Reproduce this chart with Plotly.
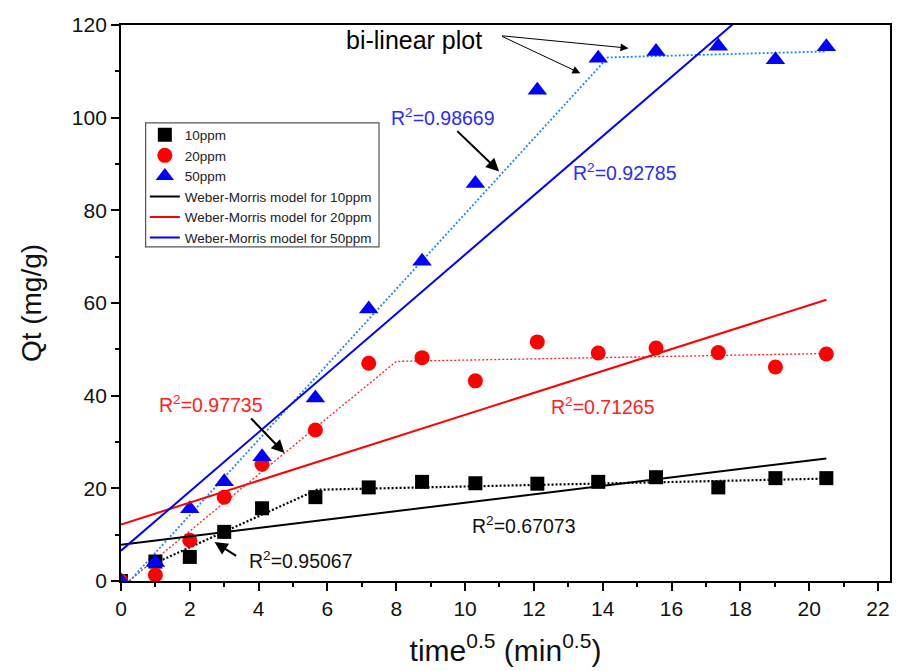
import plotly.graph_objects as go

# square root of contact time (min^0.5)
t_sqrt = [0, 1.0, 2.0, 3.0, 4.1, 5.65, 7.2, 8.75, 10.3, 12.1, 13.87, 15.55, 17.36, 19.02, 20.5]

# adsorbed amount Qt (mg/g) for each initial concentration
q_10ppm = [0, 4.2, 5.2, 10.6, 15.7, 18.1, 20.2, 21.4, 21.1, 21.0, 21.4, 22.4, 20.2, 22.2, 22.2]
q_20ppm = [0, 1.3, 8.8, 18.1, 25.2, 32.6, 47.0, 48.2, 43.2, 51.6, 49.2, 50.3, 49.3, 46.2, 49.0]
q_50ppm = [0, 4.0, 15.6, 21.4, 26.8, 39.5, 58.7, 69.0, 85.8, 105.9, 112.8, 114.3, 115.4, 112.5, 115.3]

# Weber-Morris single-line fits: Qt = kid * t^0.5 + C
wm_names = ["Weber-Morris model for 10ppm", "Weber-Morris model for 20ppm", "Weber-Morris model for 50ppm"]
wm_slope = [0.91, 2.366, 6.39]
wm_intercept = [7.8, 12.2, 6.55]
wm_x_range = [0, 20.5]

# bi-linear (two-stage) fits: knot positions
bl_10_x = [1.0, 5.7, 20.5]
bl_10_y = [3.9, 19.7, 22.1]
bl_20_x = [0.23, 8.0, 20.5]
bl_20_y = [0, 47.4, 49.1]
bl_50_x = [0.25, 14.15, 20.5]
bl_50_y = [0, 113.0, 114.3]

# R^2 labels: (text, x, y, colour)
r2_labels = [
    ("R<sup>2</sup>=0.98669", 9.35, 100.2, "#2b2bff"),
    ("R<sup>2</sup>=0.92785", 14.65, 88.3, "#2b2bff"),
    ("R<sup>2</sup>=0.97735", 2.62, 38.2, "#ff2020"),
    ("R<sup>2</sup>=0.71265", 14.0, 37.8, "#ff2020"),
    ("R<sup>2</sup>=0.67073", 11.72, 12.1, "#111111"),
    ("R<sup>2</sup>=0.95067", 5.22, 4.5, "#111111"),
]
# pointer arrows: (tail x, tail y, head x, head y)
r2_arrows = [
    (9.73, 97.4, 10.99, 88.4),
    (3.74, 35.4, 4.75, 27.6),
    (3.39, 5.2, 2.72, 8.4),
]
bilinear_label = ("bi-linear plot", 6.49, 116.8)
bilinear_arrows = [
    (11.03, 117.7, 14.75, 115.0),
    (11.03, 117.7, 13.35, 109.6),
]

FONT = "Liberation Sans, Arial, sans-serif"
fig = go.Figure()

# bi-linear dotted fits
for xs, ys, col, w in [(bl_10_x, bl_10_y, "#000000", 2.2),
                       (bl_20_x, bl_20_y, "#ff2020", 1.3),
                       (bl_50_x, bl_50_y, "#1f86ff", 1.8)]:
    fig.add_trace(go.Scatter(x=xs, y=ys, mode="lines", showlegend=False,
                             line=dict(color=col, width=w, dash="2px,2px"),
                             hoverinfo="skip"))

# single-line Weber-Morris fits
wm_colors = ["#000000", "#ff0000", "#0000ff"]
wm_traces = []
for name, k, c, col in zip(wm_names, wm_slope, wm_intercept, wm_colors):
    xs = wm_x_range
    ys = [k * x + c for x in xs]
    wm_traces.append(go.Scatter(x=xs, y=ys, mode="lines", name=name,
                                line=dict(color=col, width=2)))

# experimental points
fig.add_trace(go.Scatter(x=t_sqrt, y=q_10ppm, mode="markers", name="10ppm",
                         marker=dict(symbol="square", size=14, color="#000000")))
fig.add_trace(go.Scatter(x=t_sqrt, y=q_20ppm, mode="markers", name="20ppm",
                         marker=dict(symbol="circle", size=15, color="#ff0000")))
fig.add_trace(go.Scatter(x=t_sqrt, y=q_50ppm, mode="markers", name="50ppm",
                         marker=dict(symbol="triangle-up", size=17, color="#0000ff")))
for tr in wm_traces:
    fig.add_trace(tr)

annotations = []
for txt, x, y, col in r2_labels:
    annotations.append(dict(x=x, y=y, xref="x", yref="y", text=txt, showarrow=False,
                            font=dict(family=FONT, size=19.5, color=col)))
for tx, ty, hx, hy in r2_arrows:
    annotations.append(dict(x=hx, y=hy, ax=tx, ay=ty, xref="x", yref="y", axref="x", ayref="y",
                            text="", showarrow=True, arrowhead=2, arrowsize=1.3, arrowwidth=2,
                            arrowcolor="#000000"))
annotations.append(dict(x=bilinear_label[1], y=bilinear_label[2], xref="x", yref="y",
                        text=bilinear_label[0], showarrow=False, xanchor="left",
                        font=dict(family=FONT, size=25, color="#000000")))
for tx, ty, hx, hy in bilinear_arrows:
    annotations.append(dict(x=hx, y=hy, ax=tx, ay=ty, xref="x", yref="y", axref="x", ayref="y",
                            text="", showarrow=True, arrowhead=2, arrowsize=1.6, arrowwidth=1,
                            arrowcolor="#000000"))

fig.update_layout(
    width=898, height=671,
    margin=dict(l=121, r=6, t=25, b=90),
    plot_bgcolor="white", paper_bgcolor="white",
    font=dict(family=FONT, color="#111111"),
    annotations=annotations,
    showlegend=True,
    legend=dict(x=0.031, y=0.83, xanchor="left", yanchor="top",
                bgcolor="rgba(0,0,0,0)", borderwidth=0,
                font=dict(family=FONT, size=13.5, color="#222222"),
                traceorder="normal"),
    shapes=[dict(type="rect", xref="paper", yref="paper",
                 x0=0.032, x1=0.3355, y0=0.601, y1=0.824,
                 line=dict(color="#555555", width=1.2), fillcolor="rgba(0,0,0,0)")],
)

fig.update_xaxes(
    range=[0, 22.35], tick0=0, dtick=2, ticks="outside", ticklen=8, tickwidth=1.5,
    minor=dict(dtick=1, ticks="outside", ticklen=4, tickwidth=1.5, tickcolor="#000000"),
    showline=True, linecolor="#000000", linewidth=1.8, mirror=True, showgrid=False,
    zeroline=False, tickcolor="#000000",
    tickfont=dict(family=FONT, size=21, color="#111111"),
    title=dict(text="time<sup>0.5</sup> (min<sup>0.5</sup>)",
               font=dict(family=FONT, size=30, color="#111111"), standoff=21),
)
fig.update_yaxes(
    range=[0, 120], tick0=0, dtick=20, ticks="outside", ticklen=8, tickwidth=1.5,
    minor=dict(dtick=10, ticks="outside", ticklen=4, tickwidth=1.5, tickcolor="#000000"),
    showline=True, linecolor="#000000", linewidth=1.8, mirror=True, showgrid=False,
    zeroline=False, tickcolor="#000000",
    tickfont=dict(family=FONT, size=21, color="#111111"),
    title=dict(text="Qt (mg/g)", font=dict(family=FONT, size=28, color="#111111"), standoff=22),
)

fig.write_html("out.html")
